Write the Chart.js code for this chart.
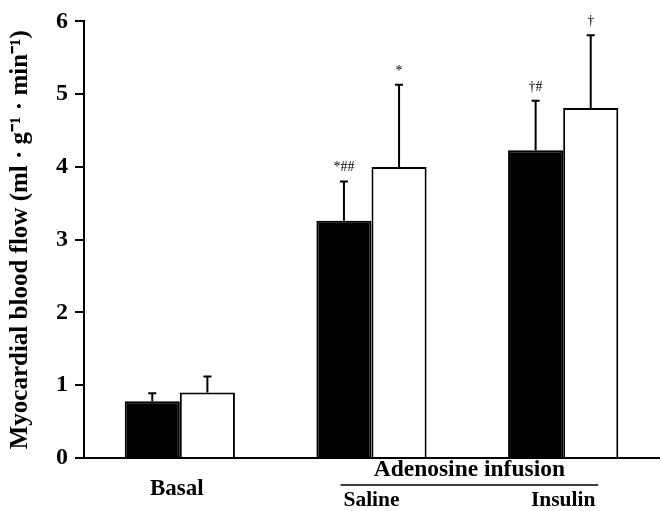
<!DOCTYPE html>
<html>
<head>
<meta charset="utf-8">
<script src="https://cdn.jsdelivr.net/npm/chart.js@4"></script>
<style>
  html, body { margin: 0; padding: 0; background: #fff; }
  #wrap { width: 662px; height: 511px; }
</style>
</head>
<body>
<div id="wrap"><canvas id="chart" width="662" height="511"></canvas></div>
<script>
// data
const groups = ["Basal", "Saline", "Insulin"];
const blackMeans = [0.78, 3.26, 4.23];
const blackSD = [0.11, 0.54, 0.68];
const whiteMeans = [0.90, 4.00, 4.81];
const whiteSD = [0.22, 1.13, 1.00];
const blackMarks = ["", "*##", "\u2020#"];
const whiteMarks = ["", "*", "\u2020"];
const yTicks = [0, 1, 2, 3, 4, 5, 6];

const serif = "'Liberation Serif', 'Times New Roman', serif";

// error bars, significance marks and the grouped x labels
const extras = {
  id: "extras",
  afterDatasetsDraw(chart) {
    const ctx = chart.ctx;
    const y = chart.scales.y;
    const x = chart.scales.x;
    const sets = [
      { means: blackMeans, sd: blackSD, marks: blackMarks },
      { means: whiteMeans, sd: whiteSD, marks: whiteMarks },
    ];
    ctx.save();
    ctx.strokeStyle = "#000";
    ctx.fillStyle = "#000";
    ctx.lineWidth = 2;
    sets.forEach((s, di) => {
      const meta = chart.getDatasetMeta(di);
      meta.data.forEach((bar, i) => {
        const top = y.getPixelForValue(s.means[i]);
        const end = y.getPixelForValue(s.means[i] + s.sd[i]);
        ctx.beginPath();
        ctx.moveTo(bar.x, top);
        ctx.lineTo(bar.x, end);
        ctx.moveTo(bar.x - 4, end);
        ctx.lineTo(bar.x + 4, end);
        ctx.stroke();
        if (s.marks[i]) {
          ctx.font = "14px " + serif;
          ctx.textAlign = "center";
          ctx.textBaseline = "alphabetic";
          ctx.fillText(s.marks[i], bar.x, end - 10);
        }
      });
    });

    ctx.textAlign = "center";
    ctx.textBaseline = "middle";
    ctx.font = "bold 23px " + serif;
    ctx.fillText(groups[0], x.getPixelForValue(0) - 3, 489);
    ctx.font = "bold 21.5px " + serif;
    ctx.fillText(groups[1], x.getPixelForValue(1), 500);
    ctx.fillText(groups[2], x.getPixelForValue(2), 500);

    const p1 = x.getPixelForValue(1);
    const p2 = x.getPixelForValue(2);
    ctx.font = "bold 23.5px " + serif;
    ctx.fillText("Adenosine infusion", (p1 + p2) / 2 + 2, 470);
    ctx.lineWidth = 1.5;
    ctx.beginPath();
    ctx.moveTo(p1 - 31, 485);
    ctx.lineTo(p2 + 35, 485);
    ctx.stroke();
    ctx.restore();
  },
};

new Chart(document.getElementById("chart").getContext("2d"), {
  type: "bar",
  data: {
    labels: groups,
    datasets: [
      {
        data: blackMeans,
        backgroundColor: "#000",
        borderColor: "#000",
        borderWidth: 2,
        barPercentage: 1,
        categoryPercentage: 0.575,
      },
      {
        data: whiteMeans,
        backgroundColor: "#fff",
        borderColor: "#000",
        borderWidth: 2,
        barPercentage: 1,
        categoryPercentage: 0.575,
      },
    ],
  },
  options: {
    responsive: false,
    animation: false,
    layout: { padding: { top: 21, right: 3, left: 0, bottom: 0 } },
    plugins: {
      legend: { display: false },
      tooltip: { enabled: false },
    },
    scales: {
      x: {
        grid: { display: false },
        border: { color: "#000", width: 2 },
        ticks: { display: false },
        afterFit(scale) {
          scale.height = 53;
        },
      },
      y: {
        min: 0,
        max: 6,
        afterBuildTicks(scale) {
          scale.ticks = yTicks.map((v) => ({ value: v }));
        },
        grid: {
          drawOnChartArea: false,
          drawTicks: true,
          tickLength: 9,
          color: "#000",
          lineWidth: 2,
        },
        border: { color: "#000", width: 2 },
        ticks: {
          color: "#000",
          padding: 7,
          font: { family: serif, size: 24, weight: "bold" },
        },
        title: {
          display: true,
          text: "Myocardial blood flow (ml \u00b7 g\u207b\u00b9 \u00b7 min\u207b\u00b9)",
          color: "#000",
          font: { family: serif, size: 25, weight: "bold" },
          padding: { top: 6, bottom: 0 },
        },
        afterFit(scale) {
          scale.width = 84;
        },
      },
    },
  },
  plugins: [extras],
});
</script>
</body>
</html>
